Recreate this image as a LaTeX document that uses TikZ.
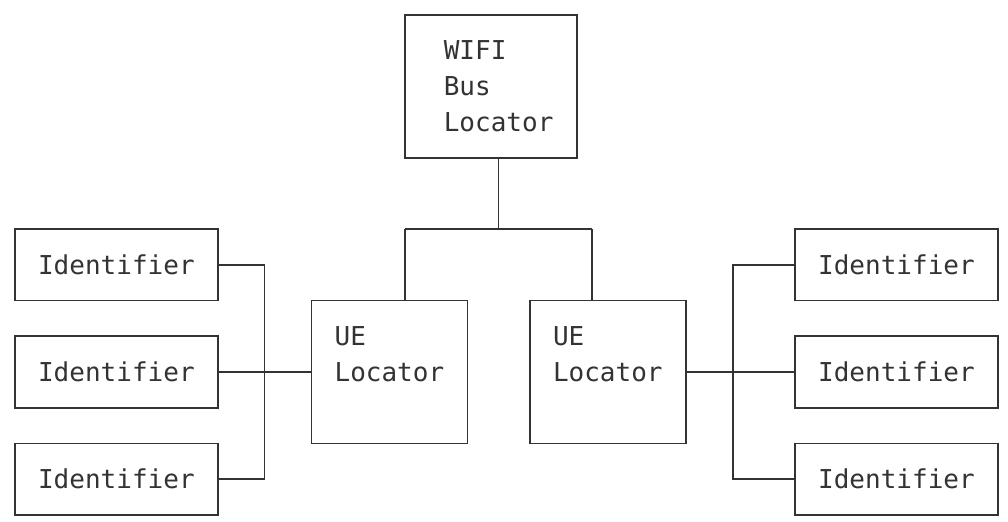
\documentclass[tikz,border=0pt]{standalone}
\usepackage{fontspec}
\setmonofont{DejaVu Sans Mono}
\usepackage{tikz}
\definecolor{ink}{HTML}{333333}

\begin{document}
\begin{tikzpicture}[x=0.156cm,y=-0.357cm]
\tikzstyle{every node}=[text=ink,font=\ttfamily\fontsize{7.4}{10.16}\selectfont,inner sep=0pt];
\tikzstyle{box}=[draw=ink,line width=0.5pt];
\tikzstyle{idbox}=[box,minimum width=2.028cm,minimum height=0.714cm];
\tikzstyle{uebox}=[box,minimum width=1.56cm,minimum height=1.428cm];
\tikzstyle{link}=[draw=ink,line width=0.5pt];
\useasboundingbox (-0.96,-0.42) rectangle (63.65,14.2);

\node[box,minimum width=1.716cm,minimum height=1.428cm] (wifi) at (30.5,2) {};
\node[align=left] (wifitext) at (31,2) {WIFI\\Bus\\Locator};

\node[uebox] (ueleft) at (24,10) {};
\node[align=left] (uelefttext) at (24,9.5) {UE\\Locator};
\node[uebox] (ueright) at (38,10) {};
\node[align=left] (uerighttext) at (38,9.5) {UE\\Locator};

\node[idbox] (idl1) at (6.5,7) {Identifier};
\node[idbox] (idl2) at (6.5,10) {Identifier};
\node[idbox] (idl3) at (6.5,13) {Identifier};
\node[idbox] (idr1) at (56.5,7) {Identifier};
\node[idbox] (idr2) at (56.5,10) {Identifier};
\node[idbox] (idr3) at (56.5,13) {Identifier};

\coordinate (hub) at (31,6);
\coordinate (hubl) at (25,6);
\coordinate (hubr) at (37,6);
\coordinate (jl) at (16,10);
\coordinate (jr) at (46,10);

\draw[link] (wifi.south -| hub) -- (hub);
\draw[link] (hubl) -- (hubr);
\draw[link] (hubl) -- (hubl |- ueleft.north);
\draw[link] (hubr) -- (hubr |- ueright.north);
\draw[link] (idl1.east) -- (idl1.east -| jl) -- (idl3.east -| jl) -- (idl3.east);
\draw[link] (idl2.east) -- (ueleft.west);
\draw[link] (idr1.west) -- (idr1.west -| jr) -- (idr3.west -| jr) -- (idr3.west);
\draw[link] (ueright.east) -- (idr2.west);
\end{tikzpicture}
\end{document}
